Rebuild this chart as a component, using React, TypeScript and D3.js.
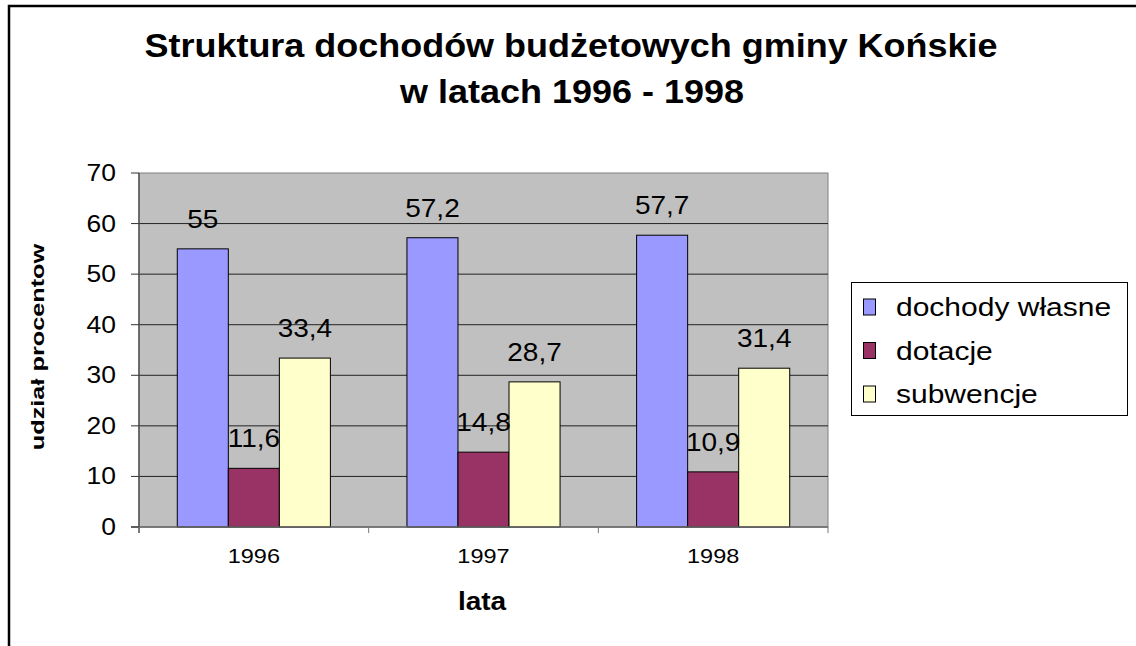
import React from "react";
import * as d3 from "d3";

const categories = ["1996", "1997", "1998"];
const seriesNames = ["dochody własne", "dotacje", "subwencje"];
const dochodyWlasne = [55, 57.2, 57.7];
const dotacje = [11.6, 14.8, 10.9];
const subwencje = [33.4, 28.7, 31.4];
const yTicks = [0, 10, 20, 30, 40, 50, 60, 70];
const colors = ["#9999FF", "#993366", "#FFFFCC"];
const titleLines = ["Struktura dochodów budżetowych gminy Końskie", "w latach 1996 - 1998"];
const yTitle = "udział procentow";
const xTitle = "lata";

const seriesValues = [dochodyWlasne, dotacje, subwencje];
const FONT = "'Liberation Sans', Arial, sans-serif";

function fmt(v: number) {
  return String(v).replace(".", ",");
}

function SText(props: {
  x: number; y: number; sx: number; size: number; anchor?: string; bold?: boolean; children: React.ReactNode; rotate?: number;
}) {
  const { x, y, sx, size, anchor = "middle", bold = false, children, rotate = 0 } = props;
  return (
    <text
      transform={`translate(${x},${y}) rotate(${rotate}) scale(${sx},1)`}
      textAnchor={anchor}
      fontFamily={FONT}
      fontSize={size}
      fontWeight={bold ? "bold" : "normal"}
      fill="#000"
    >
      {children}
    </text>
  );
}

export default function App() {
  const W = 1136, H = 646;
  const left = 139, right = 828, top = 173, bottom = 527;
  const x0 = d3.scaleBand<string>().domain(categories).range([left, right]).paddingInner(0).paddingOuter(0);
  const x1 = d3.scaleBand<string>().domain(seriesNames).range([0, x0.bandwidth()]).paddingInner(0).paddingOuter(0.75);
  const y = d3.scaleLinear().domain([0, 70]).range([bottom, top]);
  const boundaries = [left, ...categories.map((c) => (x0(c) as number) + x0.bandwidth())];

  return (
    <div style={{ position: "absolute", left: 0, top: 0 }}>
      <svg width={W} height={H} style={{ display: "block" }}>
        <rect x={0} y={0} width={W} height={H} fill="#fff" />
        <rect x={9} y={6} width={W + 20} height={H + 20} fill="#fff" stroke="#000" strokeWidth={2.5} />
        {/* title */}
        <SText x={571} y={57} sx={1.09} size={33} bold>{titleLines[0]}</SText>
        <SText x={572} y={103} sx={1.09} size={33} bold>{titleLines[1]}</SText>
        {/* plot area */}
        <rect x={left} y={top} width={right - left} height={bottom - top} fill="#C0C0C0" stroke="#808080" strokeWidth={1} />
        {yTicks.filter((t) => t > 0 && t < 70).map((t) => (
          <line key={"g" + t} x1={left} x2={right} y1={y(t)} y2={y(t)} stroke="#222" strokeWidth={1} />
        ))}
        {/* bars */}
        {categories.map((c, ci) =>
          seriesNames.map((s, si) => {
            const v = seriesValues[si][ci];
            const bx = (x0(c) as number) + (x1(s) as number);
            return (
              <rect key={c + s} x={bx} y={y(v)} width={x1.bandwidth()} height={bottom - y(v)}
                fill={colors[si]} stroke="#000" strokeWidth={1} />
            );
          })
        )}
        {/* axes */}
        <line x1={left} x2={left} y1={top} y2={bottom + 6} stroke="#555" strokeWidth={1.5} />
        <line x1={left - 8} x2={right} y1={bottom} y2={bottom} stroke="#666" strokeWidth={1.5} />
        {yTicks.map((t) => (
          <line key={"t" + t} x1={left - 8} x2={left} y1={y(t)} y2={y(t)} stroke="#333" strokeWidth={1} />
        ))}
        {boundaries.map((b, i) => (
          <line key={"b" + i} x1={b} x2={b} y1={bottom} y2={bottom + 6} stroke="#777" strokeWidth={1} />
        ))}
        {yTicks.map((t) => (
          <SText key={"l" + t} x={116} y={y(t) + 8} sx={1.15} size={23} anchor="end">{t}</SText>
        ))}
        {categories.map((c) => (
          <SText key={"c" + c} x={(x0(c) as number) + x0.bandwidth() / 2} y={563} sx={1.12} size={21}>{c}</SText>
        ))}
        {/* data labels */}
        {categories.map((c, ci) =>
          seriesNames.map((s, si) => {
            const v = seriesValues[si][ci];
            const cx = (x0(c) as number) + (x1(s) as number) + x1.bandwidth() / 2;
            return (
              <SText key={"d" + c + s} x={cx} y={y(v) - 21} sx={1.12} size={25}>{fmt(v)}</SText>
            );
          })
        )}
        {/* axis titles */}
        <SText x={482} y={610} sx={1.12} size={25} bold>{xTitle}</SText>
        <SText x={44} y={347} sx={1.33} size={19} bold rotate={-90}>{yTitle}</SText>
        {/* legend */}
        <rect x={851.5} y={282.5} width={276} height={133} fill="#fff" stroke="#000" strokeWidth={1} />
        {seriesNames.map((s, i) => {
          const cy = 307 + i * 43.5;
          return (
            <g key={"lg" + s}>
              <rect x={863.5} y={cy - 8} width={12} height={16} fill={colors[i]} stroke="#000" strokeWidth={1} />
              <SText x={896} y={cy + 9} sx={1.2} size={25} anchor="start">{s}</SText>
            </g>
          );
        })}
      </svg>
    </div>
  );
}
